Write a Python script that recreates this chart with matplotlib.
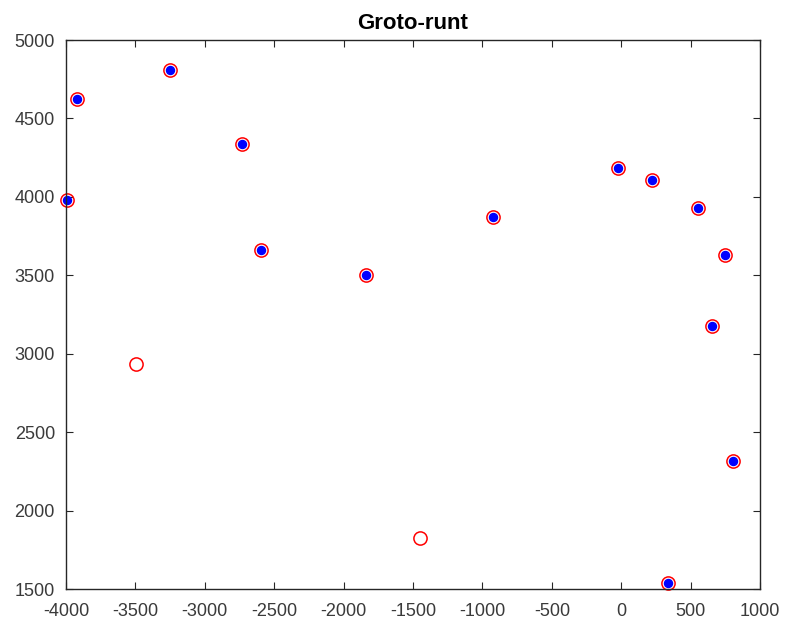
import matplotlib
matplotlib.use("Agg")
import matplotlib.pyplot as plt

# all measured positions (red rings)
ring_x = [-3921, -3252, -3991, -2734, -2597, -3496, -1842, -1453, -921,
          -22, 221, 554, 748, 657, 808, 336]
ring_y = [4623, 4808, 3981, 4336, 3664, 2932, 3504, 1826, 3874,
          4181, 4110, 3927, 3627, 3179, 2319, 1541]

# positions that were matched (blue dots)
dot_x = [-3921, -3252, -3991, -2734, -2597, -1842, -921,
         -22, 221, 554, 748, 657, 808, 336]
dot_y = [4623, 4808, 3981, 4336, 3664, 3504, 3874,
         4181, 4110, 3927, 3627, 3179, 2319, 1541]

title = "Groto-runt"
xticks = [-4000, -3500, -3000, -2500, -2000, -1500, -1000, -500, 0, 500, 1000]
yticks = [1500, 2000, 2500, 3000, 3500, 4000, 4500, 5000]

plt.rcParams["font.family"] = ["Liberation Sans", "DejaVu Sans"]
plt.rcParams["axes.unicode_minus"] = False
axcol = "#262626"
txtcol = "#3a3a3a"

fig = plt.figure(figsize=(7.87, 6.28), dpi=100)
ax = fig.add_axes([0.0839, 0.0621, 0.8818, 0.8742])

ax.plot(ring_x, ring_y, linestyle="none", marker="o", markersize=9.5,
        markerfacecolor="none", markeredgecolor="red", markeredgewidth=1.1,
        clip_on=False)
ax.plot(dot_x, dot_y, linestyle="none", marker="o", markersize=5.8,
        markerfacecolor="blue", markeredgecolor="blue", clip_on=False)

ax.set_xlim(-4000, 1000)
ax.set_ylim(1500, 5000)
ax.set_xticks(xticks)
ax.set_yticks(yticks)
ax.tick_params(direction="in", top=True, right=True, length=5, width=0.8,
               colors=axcol, labelsize=13, labelcolor=txtcol)
ax.tick_params(axis="x", pad=10)
ax.tick_params(axis="y", pad=8)
for s in ax.spines.values():
    s.set_color(axcol)
    s.set_linewidth(1.0)

ax.set_title(title, fontsize=16, fontweight="bold", pad=8, color="black")

fig.savefig("out.png", dpi=100)
